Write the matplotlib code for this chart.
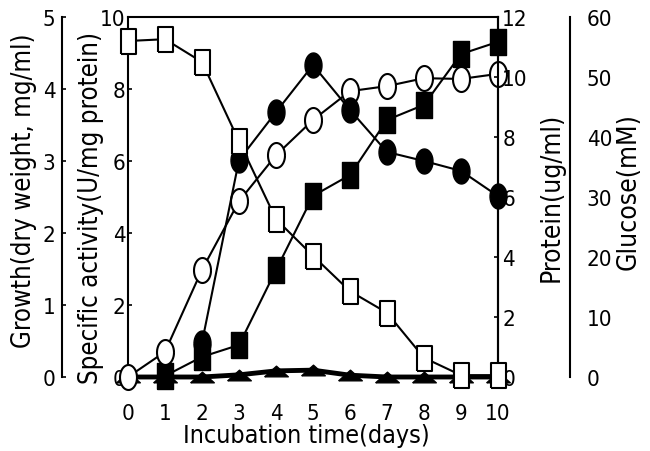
import numpy as np
import matplotlib
matplotlib.use('Agg')
import matplotlib.pyplot as plt
from matplotlib import font_manager as fm

# pick a narrow face if one is installed
names = {f.name for f in fm.fontManager.ttflist}
narrow = [f for f in fm.fontManager.ttflist
          if f.stretch in ('condensed', 'semi-condensed', 'extra-condensed')
          or 'Narrow' in f.name or 'Condensed' in f.name]
scale = 1.0
if 'Liberation Sans Narrow' in names:
    plt.rcParams['font.family'] = ['Liberation Sans Narrow', 'DejaVu Sans']
elif narrow:
    plt.rcParams['font.family'] = [narrow[0].name, 'DejaVu Sans']
    plt.rcParams['font.stretch'] = narrow[0].stretch
else:
    plt.rcParams['font.family'] = ['DejaVu Sans']
    scale = 0.88

fs_tick = 16 * scale
fs_left = 18.5 * scale
fs_right = 19 * scale
fs_x = 18 * scale

days = [0, 1, 2, 3, 4, 5, 6, 7, 8, 9, 10]

# growth, dry weight (mg/ml) - open circles
growth = [0, 0.35, 1.49, 2.44, 3.08, 3.57, 3.97, 4.04, 4.15, 4.14, 4.21]

# specific activity (U/mg protein) - filled squares, from day 1
act_days = [1, 2, 3, 4, 5, 6, 7, 8, 9, 10]
activity = [0.03, 0.56, 0.89, 2.97, 5.03, 5.61, 7.14, 7.56, 8.97, 9.31]

# triangles, near zero (specific activity scale)
tri = [0, 0, 0, 0.06, 0.17, 0.19, 0.05, 0.0, 0.0, 0, 0]

# protein (ug/ml) - filled circles, from day 2
prot_days = [2, 3, 4, 5, 6, 7, 8, 9, 10]
protein = [1.15, 7.23, 8.83, 10.4, 8.9, 7.5, 7.2, 6.87, 6.03]

# glucose (mM) - open squares
glucose = [56.0, 56.3, 52.5, 39.3, 26.3, 20.2, 14.3, 10.7, 3.2, 0.3, 0.3]

# tall shapes because the original picture is squeezed sideways
t = np.linspace(0, 2 * np.pi, 40)
ellipse = list(zip(0.68 * np.cos(t), np.sin(t)))
rect = [(-0.6, -1), (0.6, -1), (0.6, 1), (-0.6, 1), (-0.6, -1)]
flat_tri = [(-1, -0.45), (1, -0.45), (0, 0.45), (-1, -0.45)]

fig = plt.figure(figsize=(6.5, 4.52), dpi=100)
ax = fig.add_axes([128/650, 74/452, 370/650, 360/452])
ax_g = ax.twinx()
ax_p = ax.twinx()
ax_glu = ax.twinx()

# main axes = specific activity
ax.set_xlim(0, 10)
ax.set_ylim(0, 10)
ax.set_yticks([0, 2, 4, 6, 8, 10])
ax.set_xticks(days)
ax.spines['bottom'].set_visible(False)
ax.tick_params(axis='x', length=0, pad=19, labelsize=fs_tick)
ax.tick_params(axis='y', direction='in', length=3, width=1.2, pad=2, labelsize=fs_tick)
ax.set_ylabel('Specific activity(U/mg protein)', fontsize=fs_left)
ax.yaxis.set_label_coords(-0.066, 0.472)
ax.set_xlabel('Incubation time(days)', fontsize=fs_x)
ax.xaxis.set_label_coords(0.481, -0.127)
for s in ['left', 'top', 'right']:
    ax.spines[s].set_linewidth(1.5)

# growth axis, far left
ax_g.set_ylim(0, 5)
ax_g.yaxis.set_ticks_position('left')
ax_g.yaxis.set_label_position('left')
ax_g.spines['left'].set_position(('axes', -0.178))
ax_g.spines['left'].set_visible(True)
ax_g.spines['left'].set_linewidth(1.5)
for s in ['right', 'top', 'bottom']:
    ax_g.spines[s].set_visible(False)
ax_g.set_yticks([0, 1, 2, 3, 4, 5])
ax_g.tick_params(axis='y', direction='in', length=3, width=1.2, pad=5, labelsize=fs_tick)
ax_g.set_ylabel('Growth(dry weight, mg/ml)', fontsize=fs_left)
ax_g.yaxis.set_label_coords(-0.246, 0.52)

# protein axis, right spine
ax_p.set_ylim(0, 12)
ax_p.set_yticks([0, 2, 4, 6, 8, 10, 12])
for s in ['left', 'top', 'bottom']:
    ax_p.spines[s].set_visible(False)
ax_p.spines['right'].set_linewidth(1.5)
ax_p.tick_params(axis='y', direction='in', length=3, width=1.2, pad=3, labelsize=fs_tick)
ax_p.set_ylabel('Protein(ug/ml)', fontsize=fs_right)
ax_p.yaxis.set_label_coords(1.11, 0.502)

# glucose axis, far right
ax_glu.set_ylim(0, 60)
ax_glu.set_yticks([0, 10, 20, 30, 40, 50, 60])
ax_glu.spines['right'].set_position(('axes', 1.195))
ax_glu.spines['right'].set_linewidth(1.5)
for s in ['left', 'top', 'bottom']:
    ax_glu.spines[s].set_visible(False)
ax_glu.tick_params(axis='y', length=0, pad=12, labelsize=fs_tick)
ax_glu.set_ylabel('Glucose(mM)', fontsize=fs_right)
ax_glu.yaxis.set_label_coords(1.318, 0.517)
ax_glu.yaxis.set_minor_locator(matplotlib.ticker.FixedLocator([0, 10, 20, 30, 40, 50, 60]))
ax_glu.tick_params(axis='y', which='minor', direction='in', length=4, width=1.2)

# data
ax.plot(days, tri, color='black', lw=3.5, marker=flat_tri, ms=17,
        mfc='black', mec='black', clip_on=False, zorder=3)
ax.plot(act_days, activity, color='black', lw=1.5, marker=rect, ms=19,
        mfc='black', mec='black', clip_on=False, zorder=4)
ax_p.plot(prot_days, protein, color='black', lw=1.5, marker=ellipse, ms=18,
          mfc='black', mec='black', clip_on=False, zorder=4)
ax_g.plot(days, growth, color='black', lw=1.5, marker=ellipse, ms=18,
          mfc='white', mec='black', mew=1.5, clip_on=False, zorder=5)
ax_glu.plot(days, glucose, color='black', lw=1.5, marker=rect, ms=18,
            mfc='white', mec='black', mew=1.5, clip_on=False, zorder=6)

fig.savefig('out.png', dpi=100)
